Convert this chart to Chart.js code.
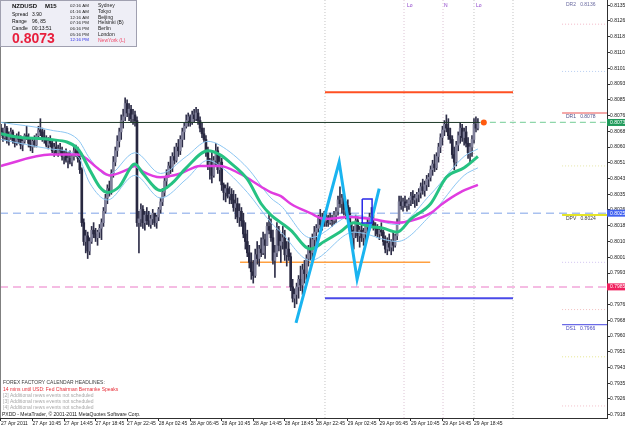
<!DOCTYPE html>
<html><head><meta charset="utf-8">
<script src="https://cdn.jsdelivr.net/npm/chart.js@4.4.1/dist/chart.umd.min.js"></script>
<style>html,body{margin:0;padding:0;background:#fff;overflow:hidden}#wrap{position:relative;width:625px;height:429px}</style>
</head><body><div id="wrap"><canvas id="c" width="625" height="429"></canvas></div>
<script>
// ---------- DATA ----------
const xTickLabels = ['27 Apr 2011','27 Apr 10:45','27 Apr 14:45','27 Apr 18:45','27 Apr 22:45','28 Apr 02:45','28 Apr 06:45','28 Apr 10:45','28 Apr 14:45','28 Apr 18:45','28 Apr 22:45','29 Apr 02:45','29 Apr 06:45','29 Apr 10:45','29 Apr 14:45','29 Apr 18:45'];
const yTickValues = [0.81350,0.81267,0.81183,0.81100,0.81017,0.80933,0.80850,0.80767,0.80683,0.80600,0.80517,0.80433,0.80350,0.80267,0.80183,0.80100,0.80017,0.79933,0.79850,0.79767,0.79683,0.79600,0.79517,0.79433,0.79350,0.79267,0.79183];
const firstOpen = 0.8070;
const highs = [.8072,.8070,.8073,.8071,.8068,.8070,.8069,.8066,.8067,.8068,
.8066,.8064,.8067,.8071,.8067,.8065,.8064,.8066,.8067,.8071,
.8075,.8070,.8069,.8066,.8065,.8066,.8064,.8062,.8063,.8061,
.8062,.8060,.8058,.8059,.8057,.8058,.8056,.8060,.8061,.8060,
.8056,.8049,.8022,.8016,.8015,.8012,.8018,.8020,.8017,.8016,
.8019,.8022,.8028,.8035,.8040,.8042,.8048,.8055,.8060,.8066,
.8070,.8077,.8080,.8086,.8085,.8083,.8082,.8080,.8079,.8076,
.8026,.8030,.8029,.8026,.8028,.8026,.8024,.8027,.8025,.8024,
.8028,.8033,.8038,.8044,.8048,.8052,.8055,.8057,.8060,.8062,
.8064,.8066,.8070,.8073,.8077,.8078,.8077,.8079,.8080,.8081,
.8080,.8076,.8073,.8070,.8066,.8060,.8054,.8058,.8055,.8062,
.8060,.8056,.8054,.8041,.8040,.8041,.8039,.8038,.8037,.8035,
.8033,.8030,.8028,.8025,.8020,.8016,.8008,.8004,.8000,.8006,
.8010,.8008,.8012,.8015,.8014,.8020,.8025,.8022,.8016,.8008,
.8020,.8018,.8014,.8018,.8016,.8010,.8012,.8004,.7990,.7985,
.7988,.7992,.7997,.7998,.8000,.8003,.8008,.8012,.8014,.8018,
.8019,.8024,.8027,.8025,.8026,.8025,.8024,.8025,.8024,.8026,
.8028,.8034,.8039,.8035,.8034,.8031,.8032,.8028,.8020,.8018,
.8024,.8023,.8018,.8020,.8017,.8019,.8022,.8025,.8028,.8024,
.8020,.8019,.8018,.8020,.8016,.8013,.8012,.8014,.8011,.8015,
.8014,.8022,.8034,.8034,.8033,.8034,.8032,.8033,.8036,.8037,
.8035,.8036,.8038,.8041,.8043,.8042,.8045,.8046,.8050,.8053,
.8056,.8057,.8062,.8067,.8071,.8074,.8077,.8075,.8070,.8066,
.8060,.8063,.8068,.8073,.8072,.8070,.8071,.8065,.8062,.8066,
.8075,.8076,.8075];
const lows = [.8066,.8063,.8064,.8062,.8061,.8064,.8062,.8060,.8061,.8062,
.8059,.8058,.8062,.8064,.8060,.8058,.8057,.8060,.8060,.8064,
.8066,.8063,.8062,.8060,.8059,.8060,.8057,.8055,.8056,.8055,
.8056,.8053,.8051,.8052,.8049,.8051,.8050,.8053,.8055,.8052,
.8046,.8018,.8008,.8004,.8001,.8003,.8009,.8012,.8010,.8008,
.8012,.8011,.8018,.8025,.8030,.8034,.8035,.8044,.8050,.8055,
.8060,.8064,.8070,.8074,.8076,.8074,.8073,.8072,.8071,.8018,
.8004,.8018,.8017,.8016,.8019,.8018,.8017,.8019,.8018,.8017,
.8021,.8025,.8029,.8034,.8038,.8044,.8046,.8047,.8051,.8052,
.8055,.8056,.8060,.8064,.8070,.8071,.8071,.8072,.8073,.8074,
.8072,.8068,.8065,.8063,.8055,.8048,.8043,.8041,.8044,.8050,
.8046,.8042,.8037,.8032,.8031,.8033,.8030,.8030,.8026,.8022,
.8020,.8018,.8018,.8012,.8006,.8002,.7996,.7990,.7988,.7991,
.7998,.7997,.8002,.8003,.8001,.8008,.8014,.8010,.7998,.7991,
.8002,.8005,.7999,.8006,.8000,.7997,.8000,.7984,.7978,.7975,
.7977,.7980,.7984,.7982,.7988,.7990,.7997,.8000,.8001,.8006,
.8008,.8015,.8017,.8016,.8018,.8018,.8018,.8019,.8018,.8019,
.8020,.8024,.8028,.8025,.8024,.8022,.8023,.8014,.8008,.8006,
.8012,.8010,.8007,.8010,.8008,.8010,.8014,.8016,.8018,.8016,
.8013,.8012,.8011,.8013,.8008,.8004,.8003,.8005,.8003,.8005,
.8007,.8011,.8019,.8027,.8026,.8028,.8026,.8027,.8029,.8030,
.8028,.8029,.8031,.8033,.8035,.8034,.8037,.8039,.8042,.8045,
.8047,.8048,.8052,.8057,.8061,.8066,.8068,.8064,.8062,.8054,
.8048,.8050,.8058,.8062,.8063,.8061,.8060,.8054,.8052,.8055,
.8062,.8068,.8069];
const closes = [.8068,.8065,.8070,.8064,.8066,.8068,.8063,.8062,.8065,.8064,
.8061,.8063,.8066,.8065,.8062,.8060,.8063,.8061,.8066,.8069,
.8068,.8065,.8064,.8061,.8063,.8062,.8058,.8060,.8057,.8059,
.8058,.8055,.8056,.8053,.8054,.8052,.8055,.8058,.8057,.8054,
.8048,.8020,.8010,.8013,.8005,.8010,.8016,.8014,.8012,.8015,
.8017,.8020,.8026,.8033,.8038,.8036,.8046,.8052,.8058,.8063,
.8068,.8074,.8076,.8083,.8078,.8080,.8075,.8077,.8074,.8020,
.8022,.8027,.8020,.8024,.8021,.8019,.8022,.8025,.8020,.8023,
.8027,.8031,.8036,.8042,.8045,.8050,.8049,.8055,.8053,.8060,
.8058,.8064,.8068,.8071,.8074,.8076,.8073,.8077,.8075,.8078,
.8074,.8070,.8067,.8064,.8057,.8050,.8052,.8045,.8053,.8058,
.8048,.8052,.8040,.8036,.8038,.8034,.8035,.8032,.8028,.8030,
.8023,.8026,.8021,.8014,.8010,.8004,.7999,.7994,.7992,.8003,
.8001,.8006,.8004,.8011,.8008,.8018,.8016,.8012,.8000,.8004,
.8016,.8008,.8010,.8012,.8003,.8006,.8002,.7986,.7980,.7982,
.7986,.7990,.7987,.7995,.7993,.8001,.8006,.8004,.8011,.8015,
.8017,.8022,.8019,.8023,.8021,.8023,.8020,.8022,.8021,.8024,
.8026,.8032,.8030,.8033,.8027,.8029,.8025,.8016,.8012,.8015,
.8021,.8013,.8016,.8012,.8015,.8018,.8020,.8023,.8020,.8018,
.8017,.8014,.8016,.8015,.8010,.8006,.8009,.8007,.8010,.8008,
.8013,.8020,.8031,.8029,.8031,.8029,.8030,.8032,.8034,.8032,
.8033,.8035,.8036,.8039,.8037,.8040,.8043,.8044,.8048,.8051,
.8049,.8055,.8060,.8065,.8069,.8072,.8070,.8066,.8064,.8056,
.8052,.8061,.8066,.8070,.8065,.8068,.8062,.8057,.8060,.8064,
.8072,.8070,.8073];
// indicator lines: [bar index, price]
const maSlow = [[0,.8050],[25,.8056],[39,.8056],[50,.8048],[55,.8045],[64,.8048],[68,.8050],[72,.8047],[81,.8044],[91,.8046],[101,.8050],[111,.8050],[121,.8046],[132,.8039],[137,.8036],[142,.8034],[147,.8030],[157,.8025],[164,.8022],[177,.8023],[187,.8022],[201,.8020],[208,.8021],[218,.8025],[224,.8030],[233,.8036],[242,.8040]];
const maMid = [[0,.8067],[10,.8065],[25,.8064],[39,.8059],[45,.8048],[50,.8039],[54,.8036],[60,.8039],[68,.8051],[72,.8046],[81,.8037],[87,.8041],[94,.8049],[105,.8058],[111,.8056],[116,.8052],[125,.8043],[132,.8030],[137,.8024],[142,.8020],[147,.8016],[157,.8006],[164,.8010],[172,.8015],[179,.8020],[187,.8018],[194,.8017],[201,.8015],[208,.8022],[218,.8030],[226,.8044],[235,.8049],[242,.8055]];
const bandUp = [[0,.8073],[25,.8069],[39,.8064],[45,.8054],[54,.8045],[68,.8057],[81,.8046],[94,.8055],[105,.8063],[111,.8061],[125,.8049],[137,.8033],[142,.8029],[157,.8012],[179,.8024],[201,.8019],[218,.8035],[235,.8055],[242,.8059]];
const bandDn = [[0,.8064],[25,.8059],[39,.8055],[45,.8041],[54,.8032],[68,.8045],[81,.8033],[94,.8043],[105,.8053],[111,.8050],[125,.8036],[137,.8020],[142,.8015],[157,.8000],[179,.8015],[201,.8010],[218,.8024],[235,.8045],[242,.8049]];
const zigzag = [[149.7,.7967],[171.6,.8052],[180.7,.7990],[191.9,.8038]];
const boxPts = [[183.3,.80325],[188.3,.80325],[188.3,.80198],[183.3,.80198],[183.3,.80325]];
const bidPrice = 0.8073;
const levelRed = [164.4,259.8,0.8089];
const levelBlue = [164.4,259.8,0.7980];
const levelOrange = [121.3,217.8,0.7999];
const fullDashBlue = 0.8025, fullDashPink = 0.7986;
const pivotLevels = [['DR1',0.8078],['DPV',0.8024],['DS1',0.7966]];
const pivotDotted = [0.8125,0.8100,0.8050,0.7999,0.7974,0.7949,0.7923];
const separators = [164.4,204.5,224.3,240.0,259.8];
const yMax = 0.813779, yMin = 0.791663, xMin = -0.5, xMax = 307.5;

// ---------- BUILD ----------
const P = a => a.map(p => ({x:p[0], y:p[1]}));
const wickData = highs.map((h,i)=>({x:i, y:[lows[i], h]}));
const bodyData = closes.map((c,i)=>({x:i, y:[i===0?firstOpen:closes[i-1], c]}));
const seg = (x0,x1,y) => [{x:x0,y:y},{x:x1,y:y}];
const lineDs = (data,color,width,extra) => Object.assign({type:'line', data, borderColor:color, borderWidth:width, pointRadius:0, fill:false, tension:0}, extra||{});

const datasets = [];
separators.forEach((s,k)=>datasets.push(lineDs([{x:s,y:yMin},{x:s,y:yMax}], k===1||k===2?'#dcc4d4':'#c4c4c4',1,{borderDash:[1,2],order:20})));
datasets.push(lineDs(seg(xMin,xMax,fullDashBlue),'#a9c1ef',1.5,{borderDash:[8,5],order:19}));
datasets.push(lineDs(seg(xMin,xMax,fullDashPink),'#f2a6da',1.5,{borderDash:[8,5],order:19}));
pivotDotted.forEach((v,k)=>datasets.push(lineDs(seg(284.7,xMax,v),['#f2b8c8','#b8cef2','#e6e6a8','#d2c4f0','#f2c0c0','#e6e690','#f2c0c8'][k],1,{borderDash:[1,2],order:19})));
datasets.push(lineDs(seg(284.7,xMax,pivotLevels[0][1]),'#f4a8a8',2,{order:19}));
datasets.push(lineDs(seg(284.7,xMax,pivotLevels[1][1]),'#e4e428',2,{order:19}));
datasets.push(lineDs(seg(284.7,xMax,pivotLevels[2][1]),'#6a6ae6',1.2,{order:19}));
datasets.push(lineDs(seg(levelOrange[0],levelOrange[1],levelOrange[2]),'#ffa040',1.5,{order:18}));
datasets.push(lineDs(seg(levelRed[0],levelRed[1],levelRed[2]),'#ff5022',2,{order:18}));
datasets.push(lineDs(seg(levelBlue[0],levelBlue[1],levelBlue[2]),'#4a4ae8',2,{order:18}));
datasets.push(lineDs(seg(243,xMax,bidPrice),'#8ed6aa',1.2,{borderDash:[6,4],order:18}));
datasets.push({type:'bar', data:wickData, backgroundColor:'#2e2e48', barThickness:1, grouped:false, order:10});
datasets.push({type:'bar', data:bodyData, barThickness:2, grouped:false, order:9,
  backgroundColor: c => (c.raw && c.raw.y[1] >= c.raw.y[0]) ? '#80809a' : '#282840'});
datasets.push(lineDs(seg(xMin,243,bidPrice),'#1e3a28',1,{order:8}));
datasets.push(lineDs(P(bandUp),'#8cc6f2',1,{cubicInterpolationMode:'monotone',order:7}));
datasets.push(lineDs(P(bandDn),'#8cc6f2',1,{cubicInterpolationMode:'monotone',order:7}));
datasets.push(lineDs(P(maSlow),'#e03ce0',2.5,{cubicInterpolationMode:'monotone',order:6}));
datasets.push(lineDs(P(maMid),'#26c282',3,{cubicInterpolationMode:'monotone',order:5}));
datasets.push(lineDs(P(zigzag),'#1ab4f0',3,{order:4}));
datasets.push(lineDs(P(boxPts),'#2828e8',1.5,{order:3}));
datasets.push(lineDs([{x:245,y:bidPrice}],'#ff5a10',0,{pointRadius:3,pointBackgroundColor:'#ff5a10',pointBorderWidth:0,order:2}));

const F = 'Liberation Sans';
const overlay = {
  id:'overlay',
  afterDraw(chart){
    const ctx = chart.ctx, ys = chart.scales.y;
    ctx.save();
    ctx.fillStyle='#808080'; ctx.fillRect(0,0,1,418);
    // info box
    ctx.fillStyle='#eeeef6'; ctx.fillRect(0,0,137,47);
    ctx.strokeStyle='#a0a0b0'; ctx.lineWidth=1; ctx.strokeRect(0.5,0.5,136,46);
    ctx.textBaseline='middle'; ctx.textAlign='left';
    ctx.fillStyle='#101010'; ctx.font='bold 6px "'+F+'"';
    ctx.fillText('NZDUSD',12,6.5); ctx.fillText('M15',45,6.5);
    ctx.font='5px "'+F+'"';
    ctx.fillText('Spread',12,14.5); ctx.fillText('3.90',32,14.5);
    ctx.fillText('Range',12,21.5); ctx.fillText('96, 85',32,21.5);
    ctx.fillText('Candle',12,28.5); ctx.fillText('00:13:51',32,28.5);
    ctx.fillStyle='#e81e3c'; ctx.font='bold 14px "'+F+'"'; ctx.fillText('0.8073',12,39);
    const times=['02:16 AM','01:16 AM','12:16 AM','07:16 PM','06:16 PM','05:16 PM','12:16 PM'];
    const cities=['Sydney','Tokyo','Beijing','Helsinki (B)','Berlin','London','NewYork (L)'];
    times.forEach((t,k)=>{const y=6+k*5.7;
      ctx.font='4.4px "'+F+'"'; ctx.fillStyle=k===6?'#2a2ae8':'#202020'; ctx.fillText(t,70,y);
      ctx.font='5px "'+F+'"'; ctx.fillStyle=k===6?'#f04868':'#202020'; ctx.fillText(cities[k],98,y);});
    // session labels
    ctx.fillStyle='#8a3cc8'; ctx.font='5px "'+F+'"';
    ctx.fillText('Lo',407,6); ctx.fillText('N',444,6); ctx.fillText('Lo',476,6);
    // pivot labels
    const pcol={DR1:'#50508a',DPV:'#404040',DS1:'#4646c0'};
    ctx.fillStyle='#6a6aa0'; ctx.fillText('DR2   0.8136',566,5);
    pivotLevels.forEach(p=>{ctx.fillStyle=pcol[p[0]]; ctx.fillText(p[0]+'   '+p[1].toFixed(4),566,ys.getPixelForValue(p[1])+4);});
    // axis boxes
    [[bidPrice,'#1f9a5a','0.80730'],[fullDashBlue,'#4262f0','0.80250'],[fullDashPink,'#f0205e','0.79855']].forEach(b=>{
      const y=ys.getPixelForValue(b[0]); ctx.fillStyle=b[1]; ctx.fillRect(607,y-3.5,18,7);
      ctx.fillStyle='#fff'; ctx.fillText(b[2],610,y);});
    // news headlines
    ctx.fillStyle='#404040'; ctx.fillText('FOREX FACTORY CALENDAR HEADLINES:',3,382.5);
    ctx.fillStyle='#e8303a'; ctx.fillText('14 mins until USD: Fed Chairman Bernanke Speaks',3,389.5);
    ctx.fillStyle='#a8a8a8';
    ctx.fillText('[2] Additional news events not scheduled',3,396);
    ctx.fillText('[3] Additional news events not scheduled',3,402);
    ctx.fillText('[4] Additional news events not scheduled',3,408);
    ctx.fillStyle='#202020'; ctx.fillText('PXDD - MetaTrader, \u00a9 2001-2011 MetaQuotes Software Corp.',2,414.5);
    ctx.restore();
  }
};

Chart.defaults.font.family = F;
new Chart(document.getElementById('c'), {
  type:'bar',
  data:{datasets},
  options:{
    responsive:false, animation:false, devicePixelRatio:1,
    layout:{padding:0, autoPadding:false},
    plugins:{legend:{display:false}, tooltip:{enabled:false}},
    scales:{
      x:{type:'linear', min:xMin, max:xMax, offset:false, position:'bottom',
        grid:{display:true, offset:false, drawOnChartArea:false, drawTicks:true, tickLength:3, color:'#303030'},
        border:{display:true, color:'#303030'},
        ticks:{autoSkip:false, maxRotation:0, minRotation:0, align:'start', padding:0, color:'#202020', font:{size:5}, callback:(v,i)=>xTickLabels[i]},
        afterBuildTicks:s=>{s.ticks = xTickLabels.map((l,k)=>({value:k*16}));},
        afterFit:s=>{s.height=11; s.paddingLeft=0; s.paddingRight=0;}
      },
      y:{type:'linear', position:'right', min:yMin, max:yMax,
        grid:{display:true, drawOnChartArea:false, drawTicks:true, tickLength:3, color:'#303030'},
        border:{display:true, color:'#303030'},
        ticks:{padding:0, color:'#202020', font:{size:5, lineHeight:0.01}, callback:v=>Number(v).toFixed(5)},
        afterBuildTicks:s=>{s.ticks = yTickValues.map(v=>({value:v}));},
        afterFit:s=>{s.width=18; s.paddingTop=0; s.paddingBottom=0;}
      }
    }
  },
  plugins:[overlay]
});
</script></body></html>
